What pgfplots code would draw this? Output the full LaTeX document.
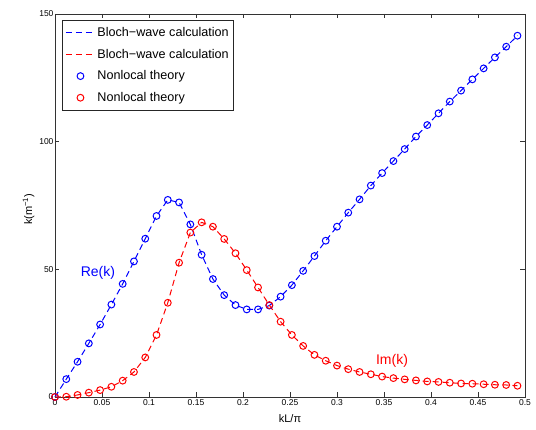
\documentclass[border=0pt]{standalone}
\usepackage{fontspec}
\setmainfont{Liberation Sans}
\usepackage{pgfplots}
\usepackage{pgfplotstable}
\pgfplotsset{compat=1.18}

% kL/pi, Re(k), Im(k)
\pgfplotstableread{
x     re     im
0.000 0.0    0.0
0.012 7.0    0.1
0.024 13.8   0.8
0.036 21.0   1.7
0.048 28.4   2.7
0.060 36.2   4.0
0.072 44.3   6.4
0.084 53.1   9.8
0.096 62.0   15.5
0.108 70.9   24.3
0.120 77.2   36.9
0.132 76.2   52.6
0.144 67.6   64.4
0.156 55.7   68.4
0.168 46.2   66.7
0.180 39.9   61.9
0.192 36.0   56.3
0.204 34.3   49.7
0.216 34.3   42.9
0.228 35.8   36.0
0.240 39.3   29.5
0.252 43.8   24.3
0.264 49.4   20.0
0.276 55.2   16.5
0.288 61.2   14.2
0.300 66.7   12.3
0.312 72.2   10.9
0.324 77.4   9.8
0.336 82.8   8.9
0.348 87.7   8.0
0.360 92.4   7.4
0.372 97.1   6.9
0.384 102.0  6.5
0.396 106.5  6.1
0.408 111.1  5.9
0.420 115.7  5.6
0.432 120.0  5.3
0.444 124.4  5.2
0.456 128.7  5.0
0.468 133.0  4.8
0.480 137.2  4.7
0.492 141.5  4.4
}\kdata

\begin{document}
\begin{tikzpicture}
\useasboundingbox (0pt,0pt) rectangle (536pt,430pt);
\begin{axis}[
  at={(55pt,33pt)}, anchor=south west,
  width=470pt, height=383pt, scale only axis,
  xmin=0, xmax=0.5, ymin=0, ymax=150,
  xtick={0,0.05,0.1,0.15,0.2,0.25,0.3,0.35,0.4,0.45,0.5},
  ytick={0,50,100,150},
  scaled x ticks=false,
  xticklabel style={/pgf/number format/fixed,/pgf/number format/precision=2},
  /pgf/number format/assume math mode=true,
  tick label style={font=\fontsize{8.5}{10}\selectfont},
  xticklabel style={yshift=1pt},
  yticklabel style={xshift=2pt},
  tick align=inside,
  major tick length=4.5pt,
  axis line style={draw=black!80,line width=0.8pt},
  every tick/.style={draw=black!80,line width=0.6pt},
  xlabel={kL/π},
  ylabel={k(m\textsuperscript{−1})},
  label style={font=\fontsize{11}{13}\selectfont},
  xlabel style={at={(axis description cs:0.5,-0.057)},anchor=center},
  ylabel style={at={(axis description cs:-0.056,0.49)},anchor=center},
  clip=false,
  legend style={at={(axis description cs:0.015,0.984)},anchor=north west,
    draw=black!85,line width=0.8pt,fill=white,
    font=\fontsize{12.6}{14}\selectfont,row sep=7pt,inner xsep=3pt,inner ysep=5pt},
  legend cell align=left,
  legend image code/.code={%
    \draw[mark repeat=2,mark phase=2,#1] plot coordinates {(0pt,0pt) (14.5pt,0pt) (29pt,0pt)};},
]
\addplot[blue,line width=1pt,dash pattern=on 6pt off 4pt,legend image post style={draw=blue}] table[x=x,y=re] {\kdata};
\addlegendentry{Bloch−wave calculation}
\addplot[red,line width=1pt,dash pattern=on 6pt off 4pt,legend image post style={draw=red}] table[x=x,y=im] {\kdata};
\addlegendentry{Bloch−wave calculation}
\addplot[blue,only marks,mark=o,mark size=3.4pt,mark options={line width=1pt}] table[x=x,y=re] {\kdata};
\addlegendentry{Nonlocal theory}
\addplot[red,only marks,mark=o,mark size=3.4pt,mark options={line width=1pt}] table[x=x,y=im] {\kdata};
\addlegendentry{Nonlocal theory}
\node[blue,font=\fontsize{14}{16}\selectfont] at (axis cs:0.0457,48.5) {Re(k)};
\node[red,font=\fontsize{14}{16}\selectfont] at (axis cs:0.3585,14) {Im(k)};
\end{axis}
\end{tikzpicture}
\end{document}
